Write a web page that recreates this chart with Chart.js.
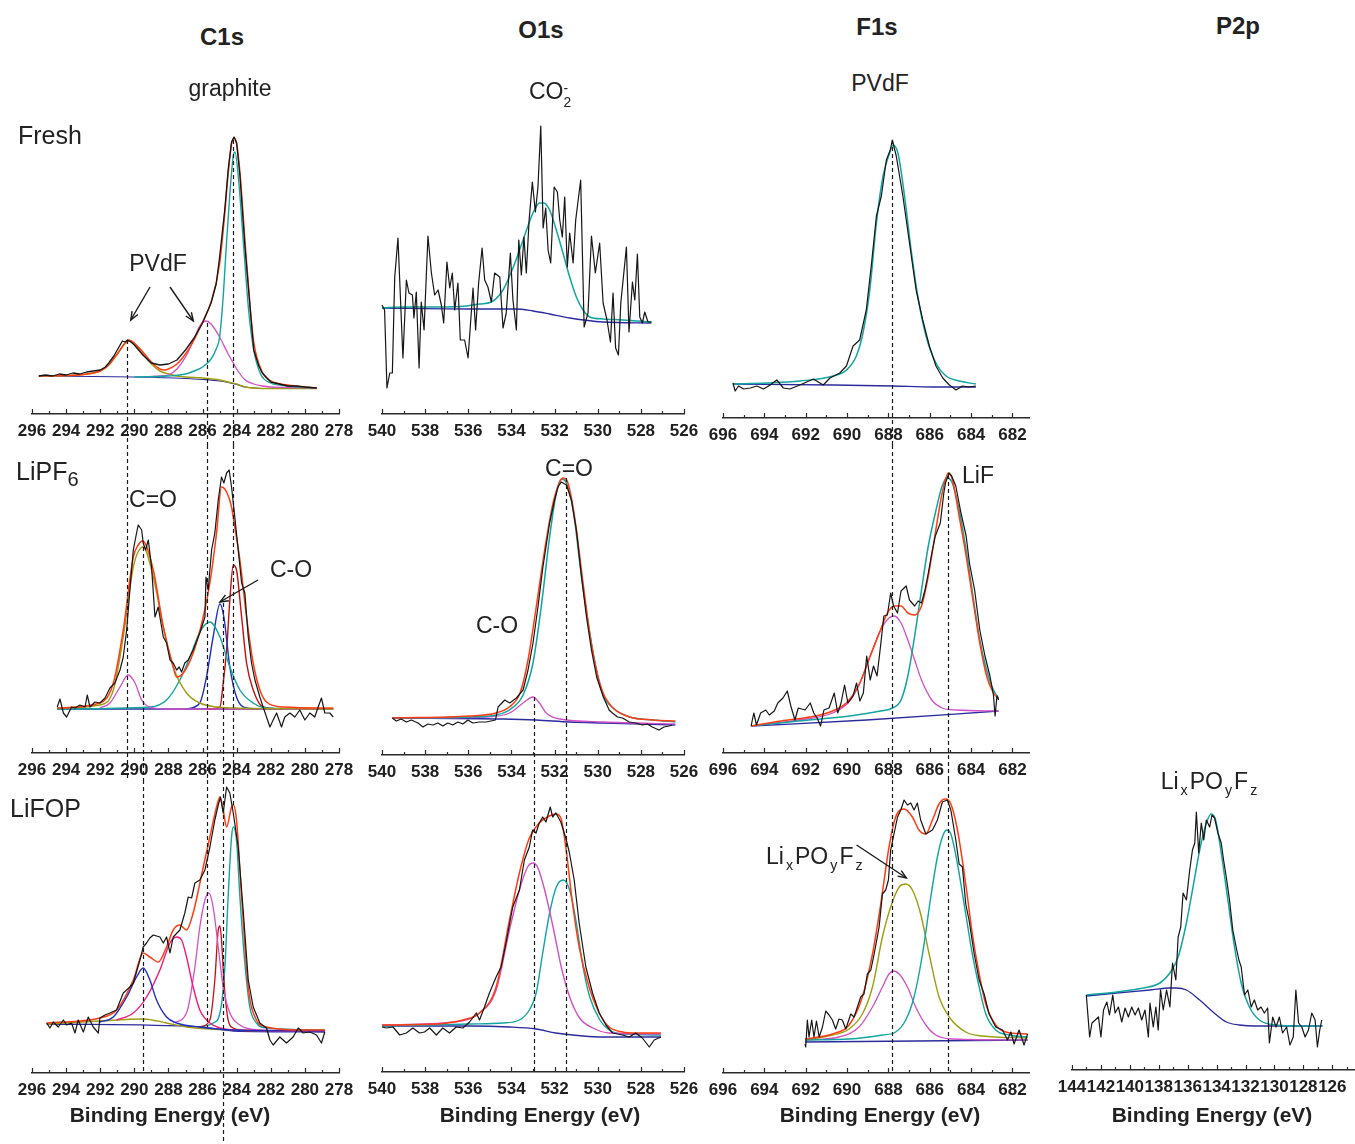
<!DOCTYPE html>
<html>
<head>
<meta charset="utf-8">
<script src="https://cdn.jsdelivr.net/npm/chart.js@4.4.0/dist/chart.umd.min.js"></script>
<style>
body { margin: 0; width: 1355px; height: 1144px; position: relative; overflow: hidden; background: #fff;
  font-family: "Liberation Sans", Arial, sans-serif; color: #222; }
canvas { position: absolute; z-index: 1; }
.t, .l { position: absolute; z-index: 2; white-space: nowrap; line-height: 1; font-size: 23px; }
.t { transform: translate(-50%, -50%); }
.l { transform: translate(0, -50%); }
.b { font-weight: bold; }
sub { font-size: 0.62em; vertical-align: -0.4em; line-height: 0; margin: 0 2px; }
sub.n { font-size: 0.8em; margin: 0; vertical-align: -0.3em; }
.stack { display: inline-block; font-size: 0.6em; line-height: 0.95; vertical-align: -0.55em; text-align: left; }
</style>
</head>
<body>
<div class="t b" style="left:222px;top:37px;font-size:24px">C1s</div>
<div class="t b" style="left:541px;top:30px;font-size:24px">O1s</div>
<div class="t b" style="left:877px;top:27px;font-size:24px">F1s</div>
<div class="t b" style="left:1238px;top:26px;font-size:24px">P2p</div>
<div class="t" style="left:230px;top:88px">graphite</div>
<div class="t" style="left:550px;top:94px">CO<span class="stack">-<br>2</span></div>
<div class="t" style="left:880px;top:83px">PVdF</div>
<div class="l" style="left:18px;top:135px;font-size:25px">Fresh</div>
<div class="l" style="left:16px;top:471px;font-size:25px">LiPF<sub class="n">6</sub></div>
<div class="l" style="left:10px;top:808px;font-size:25px">LiFOP</div>
<div class="t" style="left:158px;top:263px">PVdF</div>
<div class="t" style="left:153px;top:499px">C=O</div>
<div class="t" style="left:291px;top:569px">C-O</div>
<div class="t" style="left:569px;top:468px">C=O</div>
<div class="t" style="left:497px;top:625px">C-O</div>
<div class="t" style="left:978px;top:475px">LiF</div>
<div class="l" style="left:766px;top:856px">Li<sub>x</sub>PO<sub>y</sub>F<sub>z</sub></div>
<div class="t" style="left:1210px;top:781px">Li<sub>x</sub>PO<sub>y</sub>F<sub>z</sub></div>
<div class="t b" style="left:170px;top:1114px;font-size:21px">Binding Energy (eV)</div>
<div class="t b" style="left:540px;top:1114px;font-size:21px">Binding Energy (eV)</div>
<div class="t b" style="left:880px;top:1114px;font-size:21px">Binding Energy (eV)</div>
<div class="t b" style="left:1212px;top:1114px;font-size:21px">Binding Energy (eV)</div>

<script>
// ---- C1s, fresh electrode: [binding energy (eV), intensity (a.u.)]
const c1sFreshRaw = [[295.6,38],[295.2,39],[294.8,38],[294.4,40],[294,39],[293.6,41],[293.2,40],[292.8,42],[292.4,43],[292,44],[291.7,47],[291.5,51],[291.2,58],[291,64],[290.8,70],[290.7,73],[290.55,72],[290.4,74],[290.2,72],[290,69],[289.5,59],[289,51],[288.5,49],[288,50],[287.5,54],[287,64],[286.5,76],[286,91],[285.5,111],[285.2,130],[285,157],[284.7,204],[284.5,244],[284.3,272],[284.15,277],[284,271],[283.8,237],[283.5,164],[283.2,104],[283,64],[282.7,48],[282.5,41],[282,32],[281.5,30],[281,28],[280.5,28],[280,27],[279.3,26]];
const c1sFreshEnv = [[295.6,38],[294,38.5],[293,39.5],[292,43],[291.5,49],[291,60],[290.5,72],[290.3,74],[290,71],[289.5,62],[289,52],[288.5,45],[288.2,44],[288,45],[287.5,50],[287,60],[286.5,74],[286,92],[285.5,112],[285,150],[284.7,200],[284.5,240],[284.3,270],[284.15,276],[284,270],[283.8,240],[283.5,170],[283.2,105],[283,72],[282.5,42],[282,33],[281,29],[280,27],[279.3,26]];
const c1sFreshCF2 = [[295.6,38],[294,38.5],[293,39.5],[292,43],[291.5,49],[291,60],[290.5,71],[290.3,73],[290,70],[289.5,60],[289,50],[288.5,43],[288,40],[287.5,38],[287,37],[286,36],[285,34],[284.5,32],[284,30],[283.5,27],[283,26],[282,25.5],[279.3,25.5]];
const c1sFreshCH2 = [[289.5,37],[288.5,38],[288,39],[287.5,45],[287,57],[286.5,75],[286.2,87],[285.8,93],[285.5,90],[285,77],[284.5,60],[284.2,51],[284,45],[283.5,34],[283,30],[282.5,28],[282,27],[281,26.5],[279.3,26]];
const c1sFreshGraphite = [[290,37],[288,38],[287,40],[286.5,43],[286,47],[285.5,55],[285.2,65],[285,77],[284.8,115],[284.6,170],[284.4,220],[284.2,258],[284.1,262],[283.9,237],[283.6,170],[283.3,104],[283,64],[282.6,40],[282,31],[281,28],[280,26.5],[279.3,26]];
const c1sFreshBase = [[295.6,38],[290,37],[287,35.5],[286,34.5],[285,33],[284.5,31.5],[284,29.5],[283.5,27],[283,26],[282,25.5],[279.3,25.5]];

// ---- C1s, LiPF6
const c1sLipf6Raw = [[294.52,46],[294.36,54],[294.16,40],[293.97,36],[293.68,46],[293.48,45],[293.19,48],[292.89,46],[292.76,58],[292.6,46],[292.31,51],[292.02,50],[291.72,55],[291.43,65],[291.14,70],[290.84,83],[290.65,96],[290.45,123],[290.26,163],[290.06,203],[289.87,220],[289.77,228],[289.57,223],[289.48,210],[289.34,203],[289.18,213],[288.99,186],[288.79,136],[288.6,146],[288.3,116],[288.11,110],[287.91,93],[287.72,90],[287.52,83],[287.37,86],[287.23,81],[287.04,90],[286.84,93],[286.55,103],[286.16,120],[285.86,136],[285.8,176],[285.67,163],[285.47,203],[285.28,220],[285.08,253],[284.89,276],[284.75,270],[284.59,280],[284.44,283],[284.3,266],[284.11,236],[283.91,203],[283.71,170],[283.52,160],[283.32,116],[283.13,90],[282.93,73],[282.64,56],[282.45,46],[282.25,36],[282.05,26],[281.86,33],[281.66,40],[281.37,26],[281.18,36],[280.88,40],[280.59,36],[280.3,43],[280,33],[279.71,40],[279.42,36],[279.22,46],[279.03,55],[278.83,40],[278.54,40],[278.34,36]];
const c1sLipf6Env = [[294.52,45],[292.02,50],[291.23,70],[290.65,123],[290.06,196],[289.77,208],[289.52,212],[288.89,183],[288.3,126],[287.72,86],[287.52,76],[287.13,80],[286.55,100],[285.96,136],[285.57,170],[285.18,220],[284.89,266],[284.59,261],[284.3,246],[284.11,226],[283.81,193],[283.42,136],[283.03,90],[282.64,63],[282.25,51],[281.27,46],[278.34,45]];
const c1sLipf6CO3 = [[294.52,45],[292.02,48],[291.23,63],[290.65,116],[290.06,186],[289.48,206],[288.89,176],[288.3,126],[287.72,86],[286.94,60],[286.16,50],[285.18,46],[284.2,45],[278.34,44]];
const c1sLipf6CF2 = [[292.02,45],[291.43,50],[290.84,66],[290.36,78],[289.96,70],[289.57,53],[289.09,46],[288.11,44],[278.34,44]];
const c1sLipf6CH2 = [[294.52,44],[289.09,46],[288.11,53],[287.33,73],[286.74,96],[286.16,121],[285.57,131],[284.98,116],[284.4,86],[283.81,63],[283.03,50],[282.25,45],[278.34,44]];
const c1sLipf6CO = [[286.94,44],[286.16,50],[285.77,76],[285.38,116],[284.98,149],[284.75,136],[284.4,86],[284.01,56],[283.42,45],[282.25,44]];
const c1sLipf6Graphite = [[285.77,44],[284.98,46],[284.79,70],[284.59,103],[284.4,153],[284.2,188],[284.01,183],[283.71,136],[283.42,90],[283.03,63],[282.45,46],[281.27,44]];
const c1sLipf6Base = [[294.52,44],[278.34,44]];

// ---- C1s, LiFOP
const c1sLifopRaw = [[295.14,50],[294.95,45],[294.75,51],[294.46,46],[294.16,53],[293.97,48],[293.68,50],[293.48,40],[293.29,53],[292.99,41],[292.7,56],[292.41,46],[292.11,40],[292.02,55],[291.72,58],[291.43,60],[291.04,63],[290.65,80],[290.26,86],[290.06,90],[289.67,113],[289.48,126],[289.28,130],[289.09,135],[288.89,138],[288.5,136],[288.3,130],[288.11,136],[287.91,120],[287.72,136],[287.33,143],[287.04,160],[286.84,176],[286.64,175],[286.45,190],[286.16,193],[285.86,203],[285.57,226],[285.28,253],[285.08,268],[284.95,276],[284.79,260],[284.59,286],[284.4,280],[284.2,260],[283.91,226],[283.62,163],[283.32,93],[283.03,66],[282.64,50],[282.25,45],[282.05,33],[281.86,28],[281.47,36],[281.08,30],[280.69,36],[280.39,45],[280.1,40],[279.71,41],[279.32,38],[279.03,30],[278.83,41]];
const c1sLifopEnv = [[295.14,50],[292.02,55],[291.04,63],[290.06,93],[289.48,120],[289.09,116],[288.6,111],[288.11,126],[287.72,143],[287.33,148],[286.94,143],[286.55,160],[285.96,206],[285.57,236],[285.18,266],[284.98,276],[284.79,263],[284.59,246],[284.3,266],[284.2,268],[284.01,253],[283.71,176],[283.32,86],[282.84,53],[282.25,46],[280.3,43],[278.83,43]];
const c1sLifopCO3 = [[292.02,51],[291.23,56],[290.45,76],[289.87,96],[289.48,105],[289.09,93],[288.7,73],[288.11,56],[287.52,50],[286.16,46],[284.2,43],[278.83,42]];
const c1sLifopOCO = [[291.04,53],[290.06,60],[289.28,76],[288.5,103],[287.91,130],[287.52,136],[287.23,133],[286.94,116],[286.55,86],[286.16,63],[285.57,50],[284.98,45],[284.2,43],[278.83,42]];
const c1sLifopCH2 = [[287.72,50],[286.94,60],[286.45,106],[286.16,146],[285.86,173],[285.63,180],[285.38,166],[285.08,126],[284.79,86],[284.4,60],[283.81,48],[282.64,43],[278.83,42]];
const c1sLifopCO = [[286.16,46],[285.57,53],[285.28,93],[285.08,143],[284.98,147],[284.89,133],[284.75,93],[284.5,53],[284.2,45],[283.23,42]];
const c1sLifopGraphite = [[286.16,46],[285.38,50],[284.98,60],[284.69,106],[284.5,176],[284.3,236],[284.2,246],[284.01,233],[283.81,176],[283.52,110],[283.23,66],[282.84,50],[282.25,45],[278.83,43]];
const c1sLifopCF2 = [[295.14,49],[292.02,52],[289.48,54],[288.11,50],[286.94,46],[284.2,43],[278.83,42]];
const c1sLifopBase = [[295.14,49],[286.16,46],[284.2,42],[278.83,41]];

// ---- O1s
const o1sFreshRaw = [[540,109],[539.88,104],[539.77,26],[539.64,41],[539.52,41],[539.41,137],[539.26,176],[539.03,56],[538.87,134],[538.75,121],[538.59,119],[538.52,96],[538.41,122],[538.28,46],[538.18,112],[538.05,84],[537.87,178],[537.71,141],[537.56,119],[537.4,124],[537.25,109],[537.14,91],[536.99,152],[536.86,126],[536.74,141],[536.63,104],[536.48,131],[536.37,74],[536.17,74],[536.01,56],[535.78,126],[535.66,84],[535.52,131],[535.36,166],[535.24,134],[535.09,127],[534.93,112],[534.78,141],[534.54,137],[534.39,86],[534.24,101],[534.05,161],[533.93,114],[533.77,84],[533.66,174],[533.54,139],[533.42,177],[533.31,141],[533.18,194],[533.03,232],[532.89,202],[532.77,227],[532.64,288],[532.53,186],[532.41,206],[532.3,164],[532.18,151],[532.02,227],[531.87,222],[531.76,194],[531.64,177],[531.53,217],[531.41,147],[531.3,181],[531.14,151],[531.02,194],[530.79,234],[530.63,87],[530.45,101],[530.29,178],[530.11,141],[529.91,171],[529.75,111],[529.57,94],[529.41,72],[529.29,121],[529.17,66],[529.04,59],[528.93,111],[528.79,141],[528.67,167],[528.55,82],[528.39,132],[528.28,114],[528.16,160],[528.05,97],[527.93,91],[527.82,102],[527.67,92],[527.51,92]];
const o1sFreshCO2 = [[540,106],[539.03,107],[537.48,107],[536.09,108],[535.47,110],[534.93,112],[534.39,124],[533.93,146],[533.46,174],[533,201],[532.69,211],[532.5,211],[532.23,204],[531.92,184],[531.61,161],[531.3,137],[530.99,117],[530.68,104],[530.37,97],[529.75,95],[528.83,94],[527.51,92]];
const o1sFreshBase = [[540,106],[535.9,105],[533.77,105],[533,103],[532.23,100],[531.3,96],[529.75,92],[527.51,91]];

const o1sLipf6Raw = [[539.52,37],[539.34,34],[539.11,36],[538.87,33],[538.64,35],[538.33,32],[538.1,28],[537.87,31],[537.64,30],[537.41,32],[537.18,29],[536.95,32],[536.72,30],[536.48,33],[536.25,31],[536.02,35],[535.79,32],[535.48,33],[535.17,33],[534.74,35],[534.62,48],[534.31,55],[534.08,52],[533.77,57],[533.46,65],[533.23,85],[533,112],[532.77,148],[532.54,188],[532.23,232],[532,255],[531.84,268],[531.69,273],[531.45,270],[531.22,255],[530.99,225],[530.75,178],[530.52,138],[530.29,105],[530.05,78],[529.74,58],[529.47,45],[529.32,42],[529.08,38],[528.85,37],[528.54,33],[528.24,32],[527.93,30],[527.7,31],[527.47,28],[527.16,25],[526.93,28],[526.7,29],[526.54,30]];
const o1sLipf6Env = [[539.52,37],[535.94,39],[534.72,42],[534.1,48],[533.6,62],[533.23,95],[532.85,148],[532.46,205],[532.07,252],[531.76,273],[531.6,277],[531.38,272],[531.07,238],[530.68,172],[530.37,122],[530.06,85],[529.75,62],[529.29,47],[528.52,38],[527.44,35],[526.4,34]];
const o1sLipf6CO = [[539.52,37],[535.94,38],[534.72,40],[534.1,45],[533.46,60],[533,92],[532.62,148],[532.23,218],[531.92,262],[531.69,276],[531.45,272],[531.14,245],[530.75,178],[530.37,122],[530.06,85],[529.75,60],[529.29,47],[528.52,38],[527.44,35],[526.4,33]];
const o1sLipf6COs = [[539.52,37],[535.17,38],[534.08,42],[533.46,52],[533,58],[532.7,52],[532.39,42],[531.76,36],[529.74,33],[526.4,31]];
const o1sLipf6Base = [[539.52,37],[534.39,36],[532.85,35],[531.3,33],[529.74,32],[526.4,30]];

const o1sLifopRaw = [[540,45],[539.8,44],[539.49,45],[539.18,37],[538.87,39],[538.57,44],[538.26,39],[538.03,40],[537.79,44],[537.48,37],[537.18,44],[536.87,39],[536.56,45],[536.25,44],[535.94,50],[535.63,59],[535.48,52],[535.25,65],[535.02,79],[534.71,95],[534.48,105],[534.25,129],[533.94,165],[533.63,182],[533.4,212],[533.17,225],[533.02,242],[532.86,239],[532.71,249],[532.55,255],[532.4,250],[532.2,265],[532.09,255],[531.94,259],[531.71,250],[531.48,234],[531.32,220],[531.09,192],[530.86,149],[530.55,105],[530.24,79],[529.93,59],[529.62,47],[529.31,39],[528.85,37],[528.54,35],[528.24,39],[527.93,34],[527.61,25],[527.38,32],[527.07,35]];
const o1sLifopEnv = [[540,47],[537.48,48],[536.25,52],[535.48,59],[534.71,85],[534.09,152],[533.63,199],[533.17,234],[532.71,249],[532.25,256],[531.94,258],[531.71,254],[531.48,225],[531.17,169],[530.86,125],[530.4,85],[529.93,59],[529.47,45],[528.85,40],[528.24,39],[527.07,39]];
const o1sLifopCOs = [[540,47],[536.71,50],[535.48,59],[534.71,82],[534.09,142],[533.63,182],[533.25,205],[533,209],[532.77,204],[532.46,182],[532.07,145],[531.69,105],[531.3,75],[530.84,54],[530.22,44],[529.47,39],[527.07,38]];
const o1sLifopCO = [[540,46],[535.94,48],[534.4,49],[533.63,52],[533.17,62],[532.85,79],[532.55,119],[532.23,159],[531.92,185],[531.6,192],[531.3,182],[530.99,149],[530.68,105],[530.37,75],[529.9,52],[529.47,42],[528.85,38],[527.07,37]];
const o1sLifopBase = [[540,46],[535.94,46],[534.09,45],[532.86,43],[531.94,39],[530.68,36],[529.78,35],[527.07,35]];

// ---- F1s
const f1sFreshRaw = [[695.52,35],[695.41,27],[695.25,32],[695,29],[694.68,30],[694.36,32],[694.04,29],[693.72,33],[693.4,38],[693.08,30],[692.76,29],[692.28,33],[691.63,39],[691.15,33],[690.83,40],[690.35,45],[690.03,52],[689.71,72],[689.39,78],[689.07,108],[688.83,152],[688.58,202],[688.34,222],[688.1,258],[687.91,268],[687.81,278],[687.62,262],[687.3,222],[686.98,175],[686.66,128],[686.34,98],[686.02,72],[685.7,52],[685.37,40],[685.05,33],[684.73,28],[684.41,32],[684.09,31],[683.77,32]];
const f1sFreshPVdF = [[695.52,34],[693.88,35],[692.28,37],[690.67,42],[690.03,48],[689.55,62],[689.23,85],[688.9,128],[688.58,195],[688.26,242],[687.94,265],[687.78,273],[687.54,265],[687.22,222],[686.9,168],[686.58,122],[686.18,82],[685.7,55],[685.21,42],[684.57,37],[683.77,34]];
const f1sFreshBase = [[695.52,34],[690.67,33],[687.78,32],[685.86,31],[683.77,31]];

const f1sLipf6Raw = [[694.64,27],[694.51,40],[694.38,28],[694.18,40],[693.93,43],[693.76,38],[693.52,42],[693.35,50],[693.1,55],[692.89,62],[692.72,47],[692.52,33],[692.36,45],[692.03,43],[691.78,50],[691.61,40],[691.45,35],[691.28,27],[691.12,43],[690.87,45],[690.62,60],[690.45,40],[690.29,50],[690.12,68],[689.96,50],[689.71,57],[689.54,70],[689.38,52],[689.21,60],[689.05,97],[688.88,73],[688.72,87],[688.55,77],[688.38,107],[688.22,137],[688.05,138],[687.89,160],[687.75,147],[687.56,140],[687.39,162],[687.14,167],[686.98,153],[686.73,147],[686.56,152],[686.4,150],[686.23,163],[686.07,180],[685.9,200],[685.73,217],[685.49,230],[685.32,260],[685.24,270],[685.07,280],[684.94,277],[684.74,267],[684.49,240],[684.24,217],[684.08,190],[683.83,163],[683.58,123],[683.33,97],[683.09,77],[682.92,58],[682.84,37],[682.75,57],[682.67,53]];
const f1sLipf6Env = [[694.64,27],[693.19,32],[691.53,37],[690.7,42],[690.04,50],[689.38,70],[688.88,97],[688.38,123],[688.05,140],[687.72,147],[687.39,147],[687.06,140],[686.73,138],[686.4,147],[686.07,177],[685.73,220],[685.4,260],[685.1,280],[684.9,273],[684.58,237],[684.24,197],[683.91,153],[683.58,110],[683.25,77],[682.92,60],[682.67,54]];
const f1sLipf6PVdF = [[694.64,27],[692.36,33],[690.7,40],[689.87,52],[689.38,70],[688.88,97],[688.38,123],[687.97,135],[687.72,137],[687.39,130],[687.06,113],[686.73,93],[686.4,73],[685.9,53],[685.4,45],[684.74,43],[682.67,42]];
const f1sLipf6LiF = [[694.64,27],[692.36,32],[689.87,37],[688.38,42],[687.8,45],[687.39,53],[687.06,77],[686.73,117],[686.4,163],[686.07,207],[685.73,240],[685.4,267],[685.16,275],[684.91,270],[684.58,243],[684.24,203],[683.91,157],[683.58,113],[683.25,83],[682.92,63],[682.67,55]];
const f1sLipf6Base = [[694.64,27],[689.05,33],[682.67,42]];

const f1sLifopRaw = [[692.03,29],[692,26],[691.92,53],[691.84,36],[691.71,53],[691.6,36],[691.48,52],[691.35,36],[691.19,46],[691.03,62],[690.87,58],[690.71,53],[690.55,44],[690.39,54],[690.23,53],[690.06,44],[689.82,59],[689.66,56],[689.5,66],[689.34,76],[689.18,79],[689.02,99],[688.85,103],[688.69,119],[688.45,146],[688.29,179],[688.13,183],[688,193],[687.89,223],[687.73,239],[687.56,256],[687.4,263],[687.24,273],[687.08,268],[686.92,270],[686.76,263],[686.6,270],[686.44,253],[686.19,239],[685.87,243],[685.63,253],[685.39,271],[685.15,273],[684.98,263],[684.74,233],[684.58,209],[684.42,206],[684.26,169],[684.1,153],[683.85,119],[683.61,93],[683.37,79],[683.13,59],[682.81,46],[682.48,43],[682.24,33],[682.08,41],[681.92,29],[681.68,43],[681.44,28],[681.27,39]];
const f1sLifopEnv = [[692.03,34],[690.71,39],[689.9,48],[689.26,76],[688.77,119],[688.37,169],[687.97,226],[687.65,256],[687.24,264],[686.84,256],[686.52,243],[686.19,239],[685.87,253],[685.55,269],[685.26,274],[684.98,269],[684.66,243],[684.26,189],[683.94,139],[683.61,99],[683.29,69],[682.81,48],[682.32,41],[681.27,39]];
const f1sLifopLiPOF = [[692.03,33],[690.71,38],[689.9,44],[689.26,59],[688.77,86],[688.29,136],[687.89,166],[687.48,186],[687.16,189],[686.84,183],[686.44,159],[686.03,119],[685.55,76],[685.06,56],[684.26,41],[683.45,37],[681.27,35]];
const f1sLifopPVdF = [[692.03,33],[690.39,36],[689.42,46],[688.77,66],[688.29,86],[687.97,99],[687.73,102],[687.48,99],[687.08,86],[686.68,66],[686.19,48],[685.71,38],[684.9,34],[681.27,33]];
const f1sLifopLiF = [[692.03,33],[689.9,34],[688.29,38],[687.65,41],[687.16,53],[686.76,76],[686.35,119],[685.95,176],[685.63,216],[685.39,236],[685.19,243],[684.98,239],[684.66,209],[684.26,159],[683.94,119],[683.61,86],[683.29,59],[682.81,43],[682.16,38],[681.27,36]];
const f1sLifopBase = [[692.03,31],[681.27,33]];

// ---- P2p, LiFOP
const p2pLifopRaw = [[143.01,75],[142.78,33],[142.62,47],[142.39,50],[142.17,53],[142,33],[141.82,60],[141.59,68],[141.41,55],[141.18,75],[141.02,57],[140.79,63],[140.56,48],[140.33,62],[140.1,53],[139.87,63],[139.64,55],[139.41,62],[139.18,50],[138.95,60],[138.72,33],[138.61,67],[138.38,43],[138.2,63],[138.04,40],[137.88,80],[137.69,60],[137.46,80],[137.23,63],[137.05,107],[136.82,90],[136.66,133],[136.48,143],[136.32,177],[136.09,170],[135.86,200],[135.67,220],[135.51,227],[135.4,258],[135.24,217],[135.06,247],[134.89,230],[134.71,250],[134.48,243],[134.32,255],[134.14,252],[133.91,237],[133.68,227],[133.52,210],[133.33,193],[133.11,170],[132.88,140],[132.65,123],[132.46,110],[132.3,103],[132.07,75],[131.84,80],[131.61,63],[131.39,70],[131.16,60],[130.93,63],[130.7,57],[130.47,62],[130.35,27],[130.12,53],[129.89,43],[129.66,53],[129.44,37],[129.16,43],[128.93,25],[128.7,33],[128.52,80],[128.33,47],[128.11,43],[127.88,33],[127.65,40],[127.42,57],[127.19,50],[127.03,23],[126.87,40],[126.73,50]];
const p2pLifopFit = [[143.01,75],[140.9,78],[139.07,82],[137.92,87],[137.23,97],[136.66,113],[136.09,147],[135.63,183],[135.17,220],[134.71,247],[134.37,256],[134.07,250],[133.68,217],[133.22,170],[132.76,123],[132.3,87],[131.73,63],[131.04,50],[129.89,45],[128.06,44],[126.68,44]];
const p2pLifopBase = [[143.01,74],[140.9,77],[138.61,80],[137.23,82],[136.78,82],[136.09,80],[135.17,70],[134.25,58],[133.33,48],[132.42,45],[131.27,44],[126.68,44]];

// dashed reference lines: [energy, start row, start value, end row, end value]
const c1sMarkers = [[290.45,0,74,1,-25],[289.51,1,206,2,1],[285.72,0,91,2,46],[284.2,0,274,2,266],[284.82,1,150,2,-75]];
const o1sMarkers = [[532.95,1,58,2,0],[531.47,1,277,2,0]];
const f1sMarkers = [[687.84,0,278,2,0],[685.14,1,278,2,0]];

// annotation arrows: [from energy, from value, to energy, to value]
const c1sFreshArrows = [[289.08,127,290.21,94],[287.91,127,286.54,93]];
const c1sLipf6Arrows = [[282.75,173,284.98,151]];
const f1sLifopArrows = [[689.54,228,687.13,195]];

const FONT = '"Liberation Sans", Arial, sans-serif';
const COL = {
	raw: '#161616', env: '#ff3c12', teal: '#12a4a0', mag: '#d050c6', olive: '#9d9d12',
	navy: '#2b2b9e', dred: '#c40f0f', blue: '#1d30c2', pink: '#f2197c'
};

// page layout of each column / row (pixels)
const COLUMNS = {
	C1s: { min: 278, max: 296, left: 32, right: 339, cvLeft: 0, cvRight: 362, markers: c1sMarkers },
	O1s: { min: 526, max: 540, left: 382, right: 684, cvLeft: 362, cvRight: 700, markers: o1sMarkers },
	F1s: { min: 681.2, max: 696, left: 723, right: 1029, cvLeft: 700, cvRight: 1045, markers: f1sMarkers },
	P2p: { min: 124.5, max: 144, left: 1072, right: 1354, cvLeft: 1045, cvRight: 1355, markers: [] }
};
const ROWS = [
	{ cvTop: 100, cvBottom: 445, plotTop: 115 },
	{ cvTop: 445, cvBottom: 780, plotTop: 450 },
	{ cvTop: 780, cvBottom: 1144, plotTop: 782 }
];
const AXIS_H = 25;

const PANELS = [
	{ col: 'C1s', row: 0, axisY: 414, arrows: c1sFreshArrows, series: [
		[c1sFreshRaw, COL.raw, 1.3, false], [c1sFreshEnv, COL.env, 1.5, true], [c1sFreshGraphite, COL.teal, 1.4, true],
		[c1sFreshCH2, COL.mag, 1.3, true], [c1sFreshCF2, COL.olive, 1.5, true], [c1sFreshBase, COL.navy, 1.2, true]] },
	{ col: 'C1s', row: 1, axisY: 753, arrows: c1sLipf6Arrows, series: [
		[c1sLipf6Raw, COL.raw, 1.2, false], [c1sLipf6Env, COL.env, 1.5, true], [c1sLipf6CO3, COL.olive, 1.4, true],
		[c1sLipf6CF2, COL.mag, 1.3, true], [c1sLipf6CH2, COL.teal, 1.4, true], [c1sLipf6CO, COL.blue, 1.4, true],
		[c1sLipf6Graphite, COL.dred, 1.4, true], [c1sLipf6Base, COL.navy, 1.3, true]] },
	{ col: 'C1s', row: 2, axisY: 1073, series: [
		[c1sLifopRaw, COL.raw, 1.2, false], [c1sLifopEnv, COL.env, 1.5, true], [c1sLifopCO3, COL.blue, 1.4, true],
		[c1sLifopOCO, COL.pink, 1.4, true], [c1sLifopCH2, COL.mag, 1.3, true], [c1sLifopCO, COL.dred, 1.3, true],
		[c1sLifopGraphite, COL.teal, 1.4, true], [c1sLifopCF2, COL.olive, 1.3, true], [c1sLifopBase, COL.navy, 1.3, true]] },
	{ col: 'O1s', row: 0, axisY: 414, series: [
		[o1sFreshRaw, COL.raw, 1.2, false], [o1sFreshCO2, COL.teal, 1.5, true], [o1sFreshBase, COL.navy, 1.3, true]] },
	{ col: 'O1s', row: 1, axisY: 755, series: [
		[o1sLipf6Raw, COL.raw, 1.2, false], [o1sLipf6Env, COL.env, 1.5, true], [o1sLipf6CO, COL.teal, 1.5, true],
		[o1sLipf6COs, COL.mag, 1.3, true], [o1sLipf6Base, COL.navy, 1.3, true]] },
	{ col: 'O1s', row: 2, axisY: 1072, series: [
		[o1sLifopRaw, COL.raw, 1.2, false], [o1sLifopEnv, COL.env, 1.5, true], [o1sLifopCOs, COL.mag, 1.4, true],
		[o1sLifopCO, COL.teal, 1.4, true], [o1sLifopBase, COL.navy, 1.3, true]] },
	{ col: 'F1s', row: 0, axisY: 418, series: [
		[f1sFreshRaw, COL.raw, 1.2, false], [f1sFreshPVdF, COL.teal, 1.5, true], [f1sFreshBase, COL.navy, 1.3, true]] },
	{ col: 'F1s', row: 1, axisY: 753, series: [
		[f1sLipf6Raw, COL.raw, 1.2, false], [f1sLipf6Env, COL.env, 1.5, true], [f1sLipf6LiF, COL.teal, 1.5, true],
		[f1sLipf6PVdF, COL.mag, 1.3, true], [f1sLipf6Base, COL.navy, 1.3, true]] },
	{ col: 'F1s', row: 2, axisY: 1073, arrows: f1sLifopArrows, series: [
		[f1sLifopRaw, COL.raw, 1.2, false], [f1sLifopEnv, COL.env, 1.5, true], [f1sLifopLiF, COL.teal, 1.4, true],
		[f1sLifopLiPOF, COL.olive, 1.4, true], [f1sLifopPVdF, COL.mag, 1.3, true], [f1sLifopBase, COL.navy, 1.3, true]] },
	{ col: 'P2p', row: 2, axisY: 1070, series: [
		[p2pLifopRaw, COL.raw, 1.2, false], [p2pLifopFit, COL.teal, 1.5, true], [p2pLifopBase, COL.navy, 1.3, true]] }
];

function drawMarks(chart, p) {
	const ctx = chart.ctx, xs = chart.scales.x, ys = chart.scales.y;
	ctx.save();
	// inward tick marks: long at labelled (even) values, short in between
	ctx.strokeStyle = '#2a2a2a';
	ctx.lineWidth = 1.2;
	const axisTop = xs.top;
	for (const t of xs.ticks) {
		const x = Math.round(xs.getPixelForValue(t.value)) + 0.5;
		const len = t.value % 2 === 0 ? 5 : 3;
		ctx.beginPath();
		ctx.moveTo(x, axisTop);
		ctx.lineTo(x, axisTop - len);
		ctx.stroke();
	}
	ctx.strokeStyle = '#1a1a1a';
	ctx.setLineDash([4, 3]);
	for (const [e, r0, v0, r1, v1] of COLUMNS[p.col].markers) {
		if (p.row < r0 || p.row > r1) continue;
		const x = Math.round(xs.getPixelForValue(e)) + 0.5;
		const yTop = p.row === r0 ? ys.getPixelForValue(v0) : 0;
		const yBot = p.row === r1 ? ys.getPixelForValue(v1) : chart.height;
		ctx.beginPath();
		ctx.moveTo(x, yTop);
		ctx.lineTo(x, yBot);
		ctx.stroke();
	}
	ctx.setLineDash([]);
	ctx.lineWidth = 1.4;
	for (const [e0, v0, e1, v1] of p.arrows || []) {
		const x0 = xs.getPixelForValue(e0), y0 = ys.getPixelForValue(v0);
		const x1 = xs.getPixelForValue(e1), y1 = ys.getPixelForValue(v1);
		ctx.beginPath();
		ctx.moveTo(x0, y0);
		ctx.lineTo(x1, y1);
		ctx.stroke();
		const a = Math.atan2(y1 - y0, x1 - x0), len = 9, spread = 0.38;
		ctx.beginPath();
		ctx.moveTo(x1 - len * Math.cos(a - spread), y1 - len * Math.sin(a - spread));
		ctx.lineTo(x1, y1);
		ctx.lineTo(x1 - len * Math.cos(a + spread), y1 - len * Math.sin(a + spread));
		ctx.stroke();
	}
	ctx.restore();
}

function buildPanel(p) {
	const col = COLUMNS[p.col], row = ROWS[p.row];
	const w = col.cvRight - col.cvLeft, h = row.cvBottom - row.cvTop;
	const canvas = document.createElement('canvas');
	canvas.width = w;
	canvas.height = h;
	canvas.style.left = col.cvLeft + 'px';
	canvas.style.top = row.cvTop + 'px';
	canvas.style.width = w + 'px';
	canvas.style.height = h + 'px';
	document.body.appendChild(canvas);

	new Chart(canvas, {
		type: 'line',
		data: {
			datasets: p.series.map(([pts, color, width, smooth]) => ({
				data: pts.map(([x, y]) => ({ x, y })),
				borderColor: color,
				borderWidth: width,
				pointRadius: 0,
				fill: false,
				tension: 0,
				cubicInterpolationMode: smooth ? 'monotone' : 'default',
				borderJoinStyle: 'round',
				clip: 8
			}))
		},
		options: {
			responsive: false,
			animation: false,
			devicePixelRatio: 1,
			events: [],
			layout: {
				padding: {
					left: col.left - col.cvLeft,
					right: col.cvRight - col.right,
					top: row.plotTop - row.cvTop,
					bottom: row.cvBottom - p.axisY - AXIS_H
				}
			},
			plugins: { legend: { display: false }, tooltip: { enabled: false } },
			scales: {
				x: {
					type: 'linear',
					reverse: true,
					min: col.min,
					max: col.max,
					afterBuildTicks: scale => {
						const t = [];
						for (let v = Math.ceil(col.min); v <= Math.floor(col.max); v++) t.push({ value: v });
						scale.ticks = t;
					},
					afterFit: scale => {
						scale.height = AXIS_H;
						scale.paddingLeft = 0;
						scale.paddingRight = 0;
					},
					border: { display: true, color: '#2a2a2a', width: 1.5 },
					grid: { drawOnChartArea: false, drawTicks: false },
					ticks: {
						autoSkip: false,
						maxRotation: 0,
						minRotation: 0,
						padding: 7,
						color: '#202020',
						font: { family: FONT, size: 17, weight: 'bold' },
						callback: v => (v % 2 === 0 ? String(v) : '')
					}
				},
				y: { display: false, min: 0, max: p.axisY - row.plotTop }
			}
		},
		plugins: [{ id: 'marks', afterDraw: c => drawMarks(c, p) }]
	});
}

PANELS.forEach(buildPanel);
</script>
</body>
</html>
